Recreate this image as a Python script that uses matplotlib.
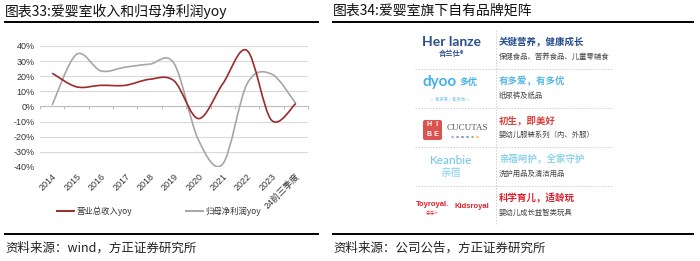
import matplotlib
matplotlib.use('Agg')
import matplotlib.pyplot as plt
from matplotlib.path import Path
from matplotlib.patches import PathPatch, FancyBboxPatch
from matplotlib.lines import Line2D
from matplotlib.transforms import Affine2D
from matplotlib.font_manager import FontProperties

# ---------------- data ----------------
categories = ['2014', '2015', '2016', '2017', '2018', '2019', '2020', '2021', '2022', '2023', '24前三季度']
revenue_yoy = [22, 13, 14, 14, 18, 17, -8, 15, 37, -9, 2]
profit_yoy = [1, 34.5, 23.5, 26, 28, 28.5, -22, -38, 15, 21.5, 2]
y_ticks = [-40, -30, -20, -10, 0, 10, 20, 30, 40]
series_names = ['营业总收入yoy', '归母净利润yoy']

left_title = '图表33:爱婴室收入和归母净利润yoy'
right_title = '图表34:爱婴室旗下自有品牌矩阵'
left_source = '资料来源：wind，方正证券研究所'
right_source = '资料来源：公司公告，方正证券研究所'

brand_headings = ['关键营养，健康成长', '有多爱，有多优', '初生，即美好', '亲蓓呵护，全家守护', '科学育儿，适龄玩']
brand_products = ['保健食品、营养食品、儿童零辅食', '纸尿裤及纸品', '婴幼儿服装系列（内、外服）',
                  '洗护用品及清洁用品', '婴幼儿成长益智类玩具']
brand_colors = ['#234d8c', '#55b8e8', '#d8443f', '#8dd2ee', '#e0202a']

W, H = 700, 261
fig = plt.figure(figsize=(W / 100, H / 100), dpi=100)
fig.patch.set_facecolor('white')
T = Affine2D().scale(1 / W, -1 / H).translate(0, 1) + fig.transFigure  # pixel coords, top-left origin

CJK = ['Noto Sans CJK SC', 'DejaVu Sans']
NUM = ['Liberation Sans', 'Noto Sans CJK SC']


def txt(x, y, s, **kw):
    kw.setdefault('family', CJK)
    fig.text(x, y, s, transform=T, **kw)


def hline(x0, x1, y, **kw):
    fig.add_artist(Line2D([x0, x1], [y, y], transform=T, **kw))


# ---------------- headers / footers ----------------
txt(5, 11, left_title, fontsize=10, va='center', ha='left', color='#111111')
txt(333, 11, right_title, fontsize=10, va='center', ha='left', color='#111111')
hline(5, 318, 21.5, color='black', lw=1.4)
hline(333, 693, 21.5, color='black', lw=1.4)
hline(5, 318, 234, color='black', lw=1.4)
hline(333, 693, 234, color='black', lw=1.4)
txt(5, 248, left_source, fontsize=9, va='center', ha='left', color='#222222')
txt(333, 248, right_source, fontsize=9, va='center', ha='left', color='#222222')

# ---------------- left chart ----------------
ax = fig.add_axes([40 / W, 1 - 167 / H, 268 / W, 121 / H])
ax.set_xlim(-0.5, len(categories) - 0.5)
ax.set_ylim(-40, 40)
for s in ['top', 'right', 'left']:
    ax.spines[s].set_visible(False)
ax.spines['bottom'].set_position(('data', 0))
ax.spines['bottom'].set_color('#bfbfbf')
ax.spines['bottom'].set_linewidth(0.8)
ax.set_yticks(y_ticks)
ax.set_yticklabels([f'{v}%' for v in y_ticks], fontsize=6.5, color='#333333', family=NUM)
ax.yaxis.grid(True, color='#d9d9d9', lw=0.8)
ax.set_axisbelow(True)
ax.tick_params(axis='y', length=0, pad=4)
xs = list(range(len(categories)))
ax.set_xticks(xs)
ax.set_xticklabels(categories, fontsize=6.5, color='#333333', family=NUM,
                   rotation=45, ha='right', va='top', rotation_mode='anchor')
ax.tick_params(axis='x', which='major', length=0, pad=47)
ax.set_xticks([i - 0.5 for i in range(len(categories) + 1)], minor=True)
ax.tick_params(axis='x', which='minor', length=2.5, color='#bfbfbf', width=0.8)


def smooth_path(xv, yv):
    pts = list(zip(xv, yv))
    n = len(pts)
    verts = [pts[0]]
    codes = [Path.MOVETO]
    for i in range(n - 1):
        p0 = pts[i - 1] if i > 0 else pts[i]
        p1 = pts[i]
        p2 = pts[i + 1]
        p3 = pts[i + 2] if i + 2 < n else pts[i + 1]
        c1 = (p1[0] + (p2[0] - p0[0]) / 6, p1[1] + (p2[1] - p0[1]) / 6)
        c2 = (p2[0] - (p3[0] - p1[0]) / 6, p2[1] - (p3[1] - p1[1]) / 6)
        verts += [c1, c2, p2]
        codes += [Path.CURVE4] * 3
    return Path(verts, codes)


red = '#9c2a2a'
gray = '#a6a6a6'
ax.add_patch(PathPatch(smooth_path(xs, profit_yoy), fill=False, edgecolor=gray, lw=1.2, zorder=3))
ax.add_patch(PathPatch(smooth_path(xs, revenue_yoy), fill=False, edgecolor=red, lw=1.2, zorder=4))

handles = [Line2D([], [], color=red, lw=1.4), Line2D([], [], color=gray, lw=1.4)]
fig.legend(handles, series_names, loc='center', bbox_to_anchor=(159 / W, 1 - 211 / H),
           ncol=2, frameon=False, prop=FontProperties(family=CJK, size=6),
           handlelength=2.0, handletextpad=0.3, columnspacing=6.5, labelcolor='#333333')

# ---------------- right table ----------------
row_edges = [30, 69, 108, 147, 186, 225]
for yy in row_edges[1:-1]:
    hline(415, 612, yy, color='#cfcfcf', lw=0.7, ls=(0, (1.5, 1.5)))
fig.add_artist(Line2D([496, 496], [row_edges[0], row_edges[-1]], transform=T,
                      color='#cfcfcf', lw=0.7, ls=(0, (1.5, 1.5))))

for i in range(5):
    yc = (row_edges[i] + row_edges[i + 1]) / 2
    txt(499, yc - 7, brand_headings[i], fontsize=6.8, fontweight='bold', color=brand_colors[i], va='center')
    txt(499, yc + 7.5, brand_products[i], fontsize=5.3, color='#444444', va='center')

# logos
txt(451, 42, 'Her lanze', family=['Lato', 'DejaVu Sans'], fontsize=10, fontweight='bold',
    color='#2b4f8e', ha='center', va='center')
txt(451, 53.5, '合兰仕®', fontsize=5.2, fontweight='bold', color='#2b4f8e', ha='center', va='center')

txt(440, 82, 'dyoo', family=['Lato', 'DejaVu Sans'], fontsize=11, fontweight='bold',
    color='#45b0ea', ha='center', va='center')
txt(469, 82, '多优', fontsize=6.5, fontweight='bold', color='#45b0ea', ha='center', va='center')
txt(450, 99, '— 有多爱 / 有多优 —', fontsize=3.2, color='#7cc4ec', ha='center', va='center')

box = FancyBboxPatch((423, 120), 19, 20, boxstyle='round,pad=0,rounding_size=2',
                     transform=T, facecolor='#d9534f', edgecolor='none')
fig.add_artist(box)
txt(432.5, 125, 'H  I', family=['Liberation Sans'], fontsize=5, color='white', ha='center', va='center', fontweight='bold')
txt(432.5, 135, 'B E', family=['Liberation Sans'], fontsize=5, color='white', ha='center', va='center', fontweight='bold')
txt(467, 128, 'CUCUTAS', family=['Liberation Serif'], fontsize=6.5, color='#555555', ha='center', va='center')
dot_colors = ['#e58fb0', '#b07cc0', '#6a8fd0', '#5a9fd8', '#7cc080', '#f0c040']
for k, c in enumerate(dot_colors):
    txt(452 + k * 5, 136.5, '●', family=['DejaVu Sans'], fontsize=2.5, color=c, ha='center', va='center')

txt(451, 161, 'Keanbie', family=['Lato', 'DejaVu Sans'], fontsize=8.5, color='#6cc4e6', ha='center', va='center')
txt(451, 173, '亲蓓', fontsize=7.5, color='#8ad0ec', ha='center', va='center')

txt(433, 204.5, 'Toyroyal.', family=['Liberation Sans'], fontsize=5.5, fontweight='bold', color='#e0202a', ha='center', va='center')
txt(432, 213.5, '乐乐+', fontsize=3.5, color='#e0202a', ha='center', va='center')
txt(472, 206.5, 'Kidsroyal', family=['Liberation Sans'], fontsize=5.5, fontweight='bold', color='#e0202a', ha='center', va='center')

fig.savefig('out.png', dpi=100, facecolor='white')
